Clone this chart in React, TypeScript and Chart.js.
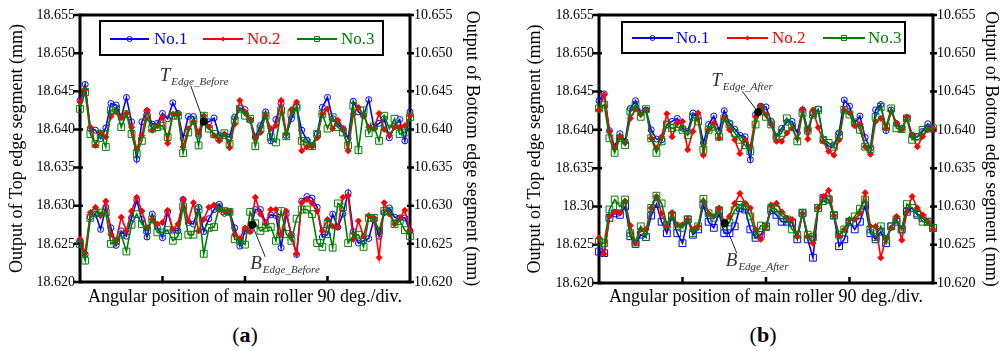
import React, { useEffect, useRef } from 'react';
import { Chart, registerables } from 'chart.js';
Chart.register(...registerables);

const FONT = "'Liberation Serif', 'Times New Roman', serif";
const SERIES_NAMES = ['No.1', 'No.2', 'No.3'];
const SERIES_COLORS = ['#0000ff', '#ff0000', '#008000'];
const X_TITLE = 'Angular position of main roller 90 deg./div.';
const LEFT_TITLE = 'Output of Top edge segment (mm)';
const RIGHT_TITLE = 'Output of Bottom edge segment (mm)';
const LEFT_TICKS_A = ['18.620', '18.625', '18.630', '18.635', '18.640', '18.645', '18.650', '18.655'];
const LEFT_TICKS_B = ['18.620', '18.625', '18.30', '18.635', '18.640', '18.645', '18.650', '18.655'];
const RIGHT_TICKS = ['10.620', '10.625', '10.630', '10.635', '10.640', '10.645', '10.650', '10.655'];

// ---------- Panel (a): before ----------
const A_TOP_NO1 = [18.6438, 18.6459, 18.6401, 18.6399, 18.6388, 18.6402, 18.6434, 18.6432, 18.6416, 18.6442, 18.6410, 18.6361, 18.6410, 18.6424, 18.6407, 18.6408, 18.6421, 18.6414, 18.6435, 18.6421, 18.6389, 18.6417, 18.6417, 18.6392, 18.6412, 18.6410, 18.6415, 18.6392, 18.6392, 18.6390, 18.6416, 18.6428, 18.6426, 18.6412, 18.6390, 18.6405, 18.6423, 18.6385, 18.6413, 18.6434, 18.6392, 18.6414, 18.6430, 18.6399, 18.6386, 18.6379, 18.6394, 18.6429, 18.6442, 18.6414, 18.6407, 18.6401, 18.6388, 18.6437, 18.6423, 18.6418, 18.6439, 18.6403, 18.6408, 18.6414, 18.6389, 18.6404, 18.6413, 18.6385, 18.6423];
const A_TOP_NO2 = [18.6436, 18.6452, 18.6403, 18.6379, 18.6396, 18.6390, 18.6417, 18.6423, 18.6416, 18.6421, 18.6403, 18.6374, 18.6392, 18.6425, 18.6399, 18.6405, 18.6416, 18.6382, 18.6420, 18.6420, 18.6377, 18.6401, 18.6410, 18.6396, 18.6418, 18.6403, 18.6392, 18.6385, 18.6394, 18.6376, 18.6407, 18.6438, 18.6423, 18.6413, 18.6388, 18.6396, 18.6418, 18.6401, 18.6405, 18.6438, 18.6394, 18.6426, 18.6436, 18.6372, 18.6377, 18.6378, 18.6389, 18.6420, 18.6427, 18.6401, 18.6412, 18.6401, 18.6372, 18.6420, 18.6429, 18.6418, 18.6403, 18.6401, 18.6421, 18.6400, 18.6392, 18.6403, 18.6403, 18.6405, 18.6418];
const A_TOP_NO3 = [18.6427, 18.6449, 18.6394, 18.6381, 18.6394, 18.6377, 18.6425, 18.6427, 18.6403, 18.6420, 18.6394, 18.6368, 18.6385, 18.6416, 18.6401, 18.6403, 18.6405, 18.6390, 18.6418, 18.6418, 18.6369, 18.6396, 18.6412, 18.6379, 18.6418, 18.6401, 18.6394, 18.6389, 18.6395, 18.6381, 18.6412, 18.6427, 18.6418, 18.6414, 18.6378, 18.6401, 18.6418, 18.6390, 18.6383, 18.6425, 18.6391, 18.6420, 18.6429, 18.6385, 18.6383, 18.6378, 18.6394, 18.6420, 18.6401, 18.6416, 18.6403, 18.6396, 18.6379, 18.6431, 18.6373, 18.6425, 18.6395, 18.6404, 18.6385, 18.6418, 18.6401, 18.6414, 18.6394, 18.6396, 18.6416];
const A_BOT_NO1 = [10.6254, 10.6236, 10.6285, 10.6289, 10.6269, 10.6298, 10.6271, 10.6248, 10.6267, 10.6260, 10.6284, 10.6307, 10.6282, 10.6259, 10.6289, 10.6272, 10.6258, 10.6292, 10.6268, 10.6267, 10.6308, 10.6278, 10.6276, 10.6298, 10.6266, 10.6283, 10.6295, 10.6302, 10.6290, 10.6292, 10.6271, 10.6247, 10.6267, 10.6267, 10.6295, 10.6295, 10.6278, 10.6288, 10.6287, 10.6245, 10.6289, 10.6262, 10.6236, 10.6306, 10.6312, 10.6310, 10.6298, 10.6259, 10.6262, 10.6289, 10.6272, 10.6289, 10.6317, 10.6266, 10.6251, 10.6254, 10.6257, 10.6282, 10.6260, 10.6291, 10.6297, 10.6285, 10.6284, 10.6284, 10.6267];
const A_BOT_NO2 = [10.6256, 10.6238, 10.6291, 10.6298, 10.6287, 10.6306, 10.6262, 10.6254, 10.6285, 10.6267, 10.6293, 10.6311, 10.6293, 10.6271, 10.6282, 10.6276, 10.6278, 10.6294, 10.6269, 10.6276, 10.6308, 10.6280, 10.6304, 10.6267, 10.6282, 10.6298, 10.6301, 10.6295, 10.6293, 10.6292, 10.6262, 10.6257, 10.6271, 10.6266, 10.6311, 10.6289, 10.6276, 10.6295, 10.6295, 10.6262, 10.6293, 10.6260, 10.6237, 10.6304, 10.6308, 10.6303, 10.6293, 10.6267, 10.6282, 10.6273, 10.6272, 10.6311, 10.6313, 10.6256, 10.6280, 10.6260, 10.6287, 10.6284, 10.6232, 10.6304, 10.6289, 10.6276, 10.6284, 10.6294, 10.6267];
const A_BOT_NO3 = [10.6250, 10.6228, 10.6284, 10.6291, 10.6291, 10.6291, 10.6250, 10.6254, 10.6262, 10.6240, 10.6275, 10.6289, 10.6276, 10.6268, 10.6282, 10.6265, 10.6265, 10.6268, 10.6254, 10.6260, 10.6299, 10.6262, 10.6262, 10.6295, 10.6237, 10.6271, 10.6272, 10.6298, 10.6293, 10.6292, 10.6256, 10.6254, 10.6249, 10.6292, 10.6277, 10.6267, 10.6271, 10.6272, 10.6254, 10.6293, 10.6263, 10.6254, 10.6283, 10.6295, 10.6295, 10.6289, 10.6251, 10.6246, 10.6276, 10.6245, 10.6303, 10.6298, 10.6251, 10.6260, 10.6262, 10.6246, 10.6284, 10.6284, 10.6267, 10.6293, 10.6293, 10.6276, 10.6280, 10.6268, 10.6260];

// ---------- Panel (b): after ----------
const B_TOP_NO1 = [18.6438, 18.6447, 18.6399, 18.6378, 18.6395, 18.6385, 18.6428, 18.6438, 18.6422, 18.6426, 18.6400, 18.6388, 18.6387, 18.6407, 18.6411, 18.6415, 18.6402, 18.6398, 18.6422, 18.6417, 18.6383, 18.6407, 18.6418, 18.6399, 18.6425, 18.6409, 18.6401, 18.6393, 18.6391, 18.6361, 18.6420, 18.6431, 18.6430, 18.6411, 18.6391, 18.6402, 18.6410, 18.6411, 18.6396, 18.6426, 18.6400, 18.6421, 18.6427, 18.6387, 18.6378, 18.6380, 18.6396, 18.6439, 18.6431, 18.6409, 18.6418, 18.6390, 18.6376, 18.6426, 18.6433, 18.6399, 18.6426, 18.6408, 18.6402, 18.6415, 18.6393, 18.6391, 18.6398, 18.6408, 18.6400];
const B_TOP_NO2 = [18.6426, 18.6446, 18.6398, 18.6376, 18.6391, 18.6383, 18.6415, 18.6427, 18.6420, 18.6426, 18.6389, 18.6376, 18.6391, 18.6421, 18.6391, 18.6409, 18.6411, 18.6374, 18.6398, 18.6422, 18.6367, 18.6400, 18.6409, 18.6389, 18.6415, 18.6400, 18.6387, 18.6369, 18.6387, 18.6378, 18.6417, 18.6431, 18.6420, 18.6407, 18.6385, 18.6385, 18.6396, 18.6402, 18.6389, 18.6427, 18.6388, 18.6426, 18.6403, 18.6385, 18.6372, 18.6367, 18.6387, 18.6426, 18.6422, 18.6405, 18.6407, 18.6378, 18.6368, 18.6411, 18.6415, 18.6402, 18.6424, 18.6409, 18.6400, 18.6417, 18.6393, 18.6378, 18.6391, 18.6400, 18.6402];
const B_TOP_NO3 = [18.6428, 18.6433, 18.6389, 18.6370, 18.6389, 18.6380, 18.6424, 18.6433, 18.6417, 18.6427, 18.6389, 18.6370, 18.6385, 18.6407, 18.6402, 18.6404, 18.6400, 18.6393, 18.6417, 18.6411, 18.6374, 18.6400, 18.6404, 18.6391, 18.6415, 18.6407, 18.6396, 18.6387, 18.6380, 18.6372, 18.6407, 18.6428, 18.6417, 18.6407, 18.6391, 18.6396, 18.6415, 18.6404, 18.6385, 18.6422, 18.6399, 18.6420, 18.6426, 18.6387, 18.6383, 18.6378, 18.6393, 18.6426, 18.6420, 18.6410, 18.6400, 18.6378, 18.6375, 18.6417, 18.6430, 18.6404, 18.6428, 18.6402, 18.6401, 18.6415, 18.6387, 18.6391, 18.6400, 18.6402, 18.6402];
const B_BOT_NO1 = [10.6241, 10.6239, 10.6285, 10.6291, 10.6289, 10.6300, 10.6261, 10.6251, 10.6263, 10.6260, 10.6288, 10.6303, 10.6280, 10.6265, 10.6287, 10.6265, 10.6252, 10.6283, 10.6263, 10.6270, 10.6302, 10.6280, 10.6272, 10.6291, 10.6265, 10.6265, 10.6274, 10.6298, 10.6296, 10.6270, 10.6259, 10.6263, 10.6274, 10.6295, 10.6289, 10.6280, 10.6280, 10.6279, 10.6257, 10.6291, 10.6257, 10.6233, 10.6298, 10.6311, 10.6309, 10.6288, 10.6248, 10.6257, 10.6280, 10.6270, 10.6280, 10.6301, 10.6265, 10.6257, 10.6267, 10.6252, 10.6274, 10.6280, 10.6270, 10.6293, 10.6298, 10.6289, 10.6285, 10.6280, 10.6272];
const B_BOT_NO2 = [10.6259, 10.6238, 10.6287, 10.6293, 10.6291, 10.6307, 10.6275, 10.6252, 10.6270, 10.6270, 10.6298, 10.6313, 10.6291, 10.6274, 10.6292, 10.6276, 10.6276, 10.6283, 10.6270, 10.6274, 10.6307, 10.6291, 10.6287, 10.6298, 10.6280, 10.6287, 10.6304, 10.6317, 10.6304, 10.6298, 10.6270, 10.6257, 10.6274, 10.6302, 10.6304, 10.6293, 10.6285, 10.6283, 10.6261, 10.6291, 10.6261, 10.6252, 10.6298, 10.6313, 10.6321, 10.6288, 10.6261, 10.6270, 10.6283, 10.6283, 10.6291, 10.6318, 10.6274, 10.6274, 10.6233, 10.6259, 10.6272, 10.6287, 10.6256, 10.6293, 10.6313, 10.6298, 10.6289, 10.6280, 10.6270];
const B_BOT_NO3 = [10.6254, 10.6252, 10.6296, 10.6309, 10.6300, 10.6309, 10.6265, 10.6253, 10.6274, 10.6260, 10.6298, 10.6314, 10.6304, 10.6276, 10.6288, 10.6274, 10.6272, 10.6283, 10.6265, 10.6274, 10.6310, 10.6291, 10.6285, 10.6295, 10.6274, 10.6279, 10.6295, 10.6302, 10.6300, 10.6287, 10.6263, 10.6275, 10.6273, 10.6298, 10.6296, 10.6288, 10.6283, 10.6270, 10.6263, 10.6292, 10.6263, 10.6260, 10.6298, 10.6307, 10.6309, 10.6289, 10.6263, 10.6270, 10.6280, 10.6287, 10.6297, 10.6309, 10.6270, 10.6260, 10.6274, 10.6257, 10.6274, 10.6283, 10.6270, 10.6303, 10.6298, 10.6291, 10.6280, 10.6280, 10.6272];

// marked points [sample position, value]
const A_T_MARK = [24, 18.6410];
const A_B_MARK = [33.4, 10.6275];
const B_T_MARK = [30.5, 18.6423];
const B_B_MARK = [24.1, 10.6278];

type PanelCfg = {
  width: number; height: number;
  plotLeft: number; plotRight: number; plotBottom: number;
  leftTitlePad: number; rightTitlePad: number;
  leftTicks: string[];
  top: number[][]; bottom: number[][];
  bottomNo1Style: string;
  tMark: number[]; bMark: number[];
  tSub: string; bSub: string;
  tLabel: { dx: number; dy: number; lx: number; ly: number };
  bLabel: { dx: number; dy: number; lx: number; ly: number };
  legend: { x1: number; y1: number; x2: number; y2: number; y: number; items: number[][] };
};

const PANEL_A: PanelCfg = {
  width: 500, height: 320, plotLeft: 80, plotRight: 410, plotBottom: 282,
  leftTitlePad: 6, rightTitlePad: 17, leftTicks: LEFT_TICKS_A,
  top: [A_TOP_NO1, A_TOP_NO2, A_TOP_NO3], bottom: [A_BOT_NO1, A_BOT_NO2, A_BOT_NO3],
  bottomNo1Style: 'circle',
  tMark: A_T_MARK, bMark: A_B_MARK, tSub: 'Edge_Before', bSub: 'Edge_Before',
  tLabel: { dx: -44, dy: -41, lx: -13, ly: -36 },
  bLabel: { dx: -2, dy: 44, lx: 13, ly: 32 },
  legend: { x1: 100, y1: 21, x2: 383, y2: 55, y: 39, items: [[110, 149, 154], [203, 243, 247], [297, 337, 341]] },
};

const PANEL_B: PanelCfg = {
  width: 502, height: 320, plotLeft: 99, plotRight: 433, plotBottom: 283,
  leftTitlePad: 24, rightTitlePad: 0, leftTicks: LEFT_TICKS_B,
  top: [B_TOP_NO1, B_TOP_NO2, B_TOP_NO3], bottom: [B_BOT_NO1, B_BOT_NO2, B_BOT_NO3],
  bottomNo1Style: 'rect',
  tMark: B_T_MARK, bMark: B_B_MARK, tSub: 'Edge_After', bSub: 'Edge_After',
  tLabel: { dx: -47, dy: -26, lx: -16, ly: -21 },
  bLabel: { dx: 1, dy: 43, lx: 12, ly: 30 },
  legend: { x1: 122, y1: 22, x2: 405, y2: 53, y: 38, items: [[132, 173, 176], [227, 268, 272], [323, 365, 368]] },
};

const MARKERS = [
  { style: 'circle', radius: 3, fill: 'rgba(0,0,0,0)' },
  { style: 'rectRot', radius: 3, fill: '#ff0000' },
  { style: 'rect', radius: 4.8, fill: 'rgba(0,0,0,0)' },
];

function drawMarker(ctx: CanvasRenderingContext2D, style: string, x: number, y: number, color: string) {
  ctx.save();
  ctx.strokeStyle = color;
  ctx.fillStyle = color;
  ctx.lineWidth = 1;
  ctx.beginPath();
  if (style === 'circle') {
    ctx.arc(x, y, 2.5, 0, Math.PI * 2);
    ctx.stroke();
  } else if (style === 'rectRot') {
    ctx.moveTo(x, y - 2.5); ctx.lineTo(x + 2.5, y); ctx.lineTo(x, y + 2.5); ctx.lineTo(x - 2.5, y); ctx.closePath();
    ctx.fill();
  } else {
    ctx.rect(x - 2.5, y - 2.5, 5, 5);
    ctx.stroke();
  }
  ctx.restore();
}

function makePlugin(p: PanelCfg) {
  return {
    id: 'panelDeco',
    beforeDatasetsDraw(chart: any) {
      const { ctx, chartArea: a, scales } = chart;
      ctx.save();
      ctx.strokeStyle = '#000';
      ctx.lineWidth = 3;
      ctx.strokeRect(a.left, a.top, a.right - a.left, a.bottom - a.top);
      ctx.lineWidth = 2.5;
      ctx.beginPath();
      scales.y.ticks.forEach((t: any) => {
        const y = scales.y.getPixelForValue(t.value);
        ctx.moveTo(a.left - 6, y); ctx.lineTo(a.left + 3, y);
      });
      scales.y2.ticks.forEach((t: any) => {
        const y = scales.y2.getPixelForValue(t.value);
        ctx.moveTo(a.right - 3, y); ctx.lineTo(a.right + 4, y);
      });
      scales.x.ticks.forEach((t: any) => {
        if (t.value <= scales.x.min || t.value >= scales.x.max) return;
        const x = scales.x.getPixelForValue(t.value);
        ctx.moveTo(x, a.bottom); ctx.lineTo(x, a.bottom - 6);
      });
      ctx.stroke();
      ctx.restore();
    },
    afterDatasetsDraw(chart: any) {
      const { ctx, scales } = chart;
      ctx.save();
      const L = p.legend;
      ctx.strokeStyle = '#000';
      ctx.lineWidth = 2;
      ctx.fillStyle = '#fff';
      ctx.fillRect(L.x1, L.y1, L.x2 - L.x1, L.y2 - L.y1);
      ctx.strokeRect(L.x1, L.y1, L.x2 - L.x1, L.y2 - L.y1);
      L.items.forEach((it, i) => {
        ctx.strokeStyle = SERIES_COLORS[i];
        ctx.lineWidth = 2;
        ctx.beginPath();
        ctx.moveTo(it[0], L.y); ctx.lineTo(it[1], L.y);
        ctx.stroke();
        drawMarker(ctx, MARKERS[i].style, (it[0] + it[1]) / 2, L.y, SERIES_COLORS[i]);
        ctx.fillStyle = SERIES_COLORS[i];
        ctx.font = `17px ${FONT}`;
        ctx.textBaseline = 'middle';
        ctx.textAlign = 'left';
        ctx.fillText(SERIES_NAMES[i], it[2], L.y + 1);
      });
      const ann = [
        { mark: p.tMark, axis: 'y', letter: 'T', sub: p.tSub, lab: p.tLabel },
        { mark: p.bMark, axis: 'y2', letter: 'B', sub: p.bSub, lab: p.bLabel },
      ];
      ann.forEach((an) => {
        const px = scales.x.getPixelForValue(an.mark[0]);
        const py = scales[an.axis].getPixelForValue(an.mark[1]);
        ctx.strokeStyle = '#222';
        ctx.lineWidth = 1;
        ctx.beginPath();
        ctx.moveTo(px + an.lab.lx, py + an.lab.ly);
        ctx.lineTo(px, py);
        ctx.stroke();
        ctx.fillStyle = '#000';
        ctx.beginPath();
        ctx.arc(px, py, 4, 0, Math.PI * 2);
        ctx.fill();
        ctx.fillStyle = '#333';
        ctx.textBaseline = 'alphabetic';
        ctx.textAlign = 'left';
        ctx.font = `italic 19px ${FONT}`;
        const tx = px + an.lab.dx;
        const ty = py + an.lab.dy;
        ctx.fillText(an.letter, tx, ty);
        const w = ctx.measureText(an.letter).width;
        ctx.font = `italic 11px ${FONT}`;
        ctx.fillText(an.sub, tx + w + 1, ty + 4);
      });
      ctx.restore();
    },
  };
}

function buildConfig(p: PanelCfg): any {
  const datasets: any[] = [];
  const orders = [2, 1, 0];
  for (let s = 0; s < 3; s++) {
    const groups = [
      { vals: p.top[s], axis: 'y', style: MARKERS[s].style },
      { vals: p.bottom[s], axis: 'y2', style: s === 0 ? p.bottomNo1Style : MARKERS[s].style },
    ];
    groups.forEach((g) => {
      const isRect = g.style === 'rect';
      datasets.push({
        label: SERIES_NAMES[s],
        data: g.vals.map((v, i) => ({ x: i, y: v })),
        yAxisID: g.axis,
        borderColor: SERIES_COLORS[s],
        borderWidth: 1.6,
        pointStyle: g.style,
        pointRadius: isRect ? 4.8 : MARKERS[s].radius,
        pointBorderWidth: 1,
        pointBorderColor: SERIES_COLORS[s],
        pointBackgroundColor: s === 1 ? '#ff0000' : 'rgba(0,0,0,0)',
        tension: 0,
        clip: false,
        order: orders[s],
      });
    });
  }
  const titleFont = { family: FONT, size: 18 };
  return {
    type: 'line',
    data: { datasets },
    options: {
      responsive: false,
      animation: false,
      events: [],
      layout: { padding: { top: 15, left: 0, right: 0, bottom: 0 } },
      plugins: { legend: { display: false }, tooltip: { enabled: false } },
      scales: {
        x: {
          type: 'linear', min: 0, max: 64,
          ticks: { display: false, stepSize: 16 },
          grid: { display: false, drawTicks: false },
          border: { display: false },
          title: { display: true, text: X_TITLE, font: titleFont, color: '#000', padding: { top: 0, bottom: 12 } },
          afterFit: (sc: any) => { sc.height = p.height - p.plotBottom; },
        },
        y: {
          position: 'left', min: 18.62, max: 18.655,
          ticks: { stepSize: 0.005, callback: (_v: any, i: number) => p.leftTicks[i], font: { family: FONT, size: 14 }, color: '#000', padding: 5 },
          grid: { display: false, drawTicks: false },
          border: { display: false },
          title: { display: true, text: LEFT_TITLE, font: titleFont, color: '#000', padding: { top: p.leftTitlePad, bottom: 0 } },
          afterFit: (sc: any) => { sc.width = p.plotLeft; },
        },
        y2: {
          position: 'right', min: 10.62, max: 10.655,
          ticks: { stepSize: 0.005, callback: (_v: any, i: number) => RIGHT_TICKS[i], font: { family: FONT, size: 14 }, color: '#000', padding: 4 },
          grid: { display: false, drawTicks: false },
          border: { display: false },
          title: { display: true, text: RIGHT_TITLE, font: titleFont, color: '#000', padding: { top: p.rightTitlePad, bottom: 0 } },
          afterFit: (sc: any) => { sc.width = p.width - p.plotRight; },
        },
      },
    },
    plugins: [makePlugin(p)],
  };
}

function Panel({ cfg, left }: { cfg: PanelCfg; left: number }) {
  const ref = useRef<HTMLCanvasElement>(null);
  useEffect(() => {
    if (!ref.current) return;
    const chart = new Chart(ref.current, buildConfig(cfg));
    return () => chart.destroy();
  }, [cfg]);
  return (
    <canvas
      ref={ref}
      width={cfg.width}
      height={cfg.height}
      style={{ position: 'absolute', left, top: 0, width: cfg.width, height: cfg.height }}
    />
  );
}

const captionStyle: React.CSSProperties = {
  position: 'absolute', top: 322, width: 60, textAlign: 'center',
  fontFamily: FONT, fontSize: 22, lineHeight: '26px', color: '#000',
};

export default function App() {
  return (
    <div style={{ position: 'absolute', left: 0, top: 0, width: 1002, height: 351, background: '#fff', overflow: 'hidden' }}>
      <Panel cfg={PANEL_A} left={0} />
      <Panel cfg={PANEL_B} left={500} />
      <div style={{ ...captionStyle, left: 215 }}>(<b>a</b>)</div>
      <div style={{ ...captionStyle, left: 733 }}>(<b>b</b>)</div>
    </div>
  );
}
